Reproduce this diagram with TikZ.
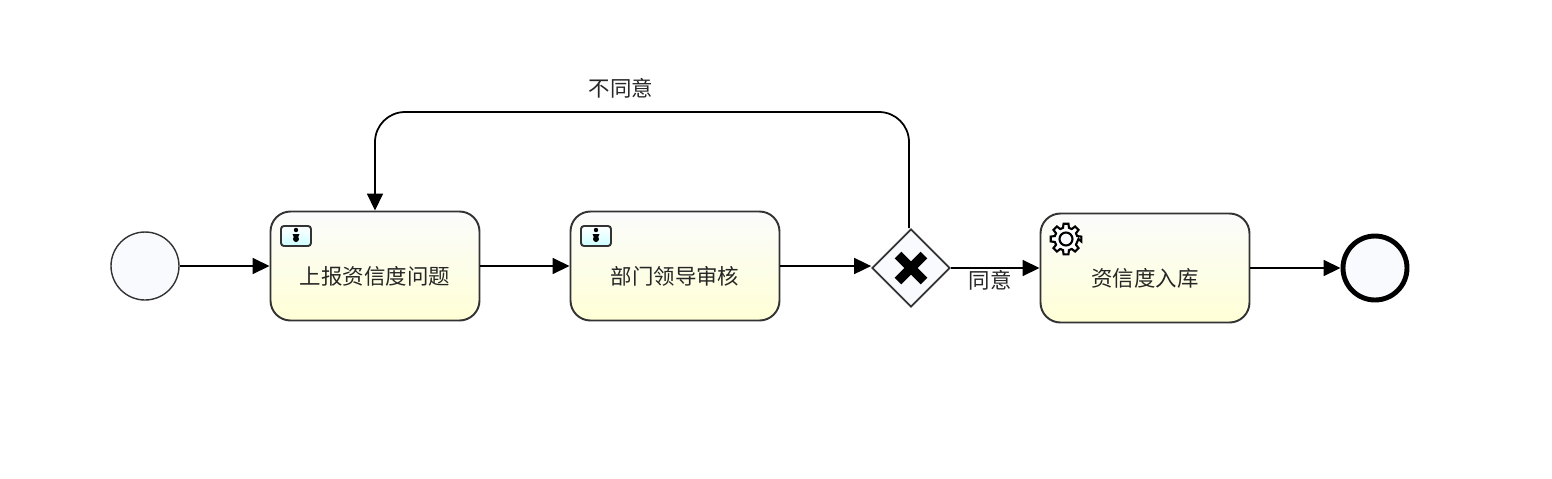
\documentclass[tikz,border=0pt]{standalone}
\usepackage{fontspec}
\setmainfont{Noto Sans CJK SC}
\usetikzlibrary{arrows.meta,shapes.geometric}
\definecolor{evfill}{HTML}{F8FAFD}
\definecolor{tasktop}{HTML}{FBFCFC}
\definecolor{taskbot}{HTML}{FFFFD6}
\definecolor{linegray}{HTML}{333333}
\tikzset{
  evnode/.style={circle, draw=linegray, fill=evfill, line width=0.4pt, inner sep=0pt, minimum size=0.68cm},
  tasknode/.style={rectangle, rounded corners=0.2cm, draw=linegray, line width=0.55pt, top color=tasktop, bottom color=taskbot, minimum width=2.09cm, minimum height=1.09cm, inner sep=0pt},
  gatenode/.style={diamond, draw=linegray, fill=evfill, line width=0.5pt, inner sep=0pt, minimum width=0.78cm, minimum height=0.78cm},
  lbl/.style={inner sep=0pt, font=\fontsize{6.1pt}{7pt}\selectfont, text=black!85},
  flow/.style={draw=black, line width=0.5pt, -{Triangle[length=0.17cm,width=0.16cm]}},
  usericon/.style={rectangle, rounded corners=0.03cm, draw=linegray, line width=0.55pt, top color=white, bottom color=cyan!20, minimum width=0.3cm, minimum height=0.2cm, inner sep=0pt},
}
\begin{document}
\begin{tikzpicture}
    \useasboundingbox (0,0) rectangle (15.52,4.78);
    \node[evnode] (start) at (1.45,2.12) {};
    \node[tasknode] (report) at (3.75,2.12) {};
    \node[tasknode] (audit) at (6.75,2.12) {};
    \node[gatenode] (gate) at (9.11,2.10) {};
    \node[tasknode] (store) at (11.45,2.10) {};
    \node[evnode, draw=black, line width=1.4pt, minimum size=0.64cm] (finish) at (13.75,2.10) {};
    \node[lbl] (reporttext) at (3.75,2.02) {上报资信度问题};
    \node[lbl] (audittext) at (6.75,2.02) {部门领导审核};
    \node[lbl] (storetext) at (11.45,2.00) {资信度入库};
    \node[lbl] (nolabel) at (6.21,3.90) {不同意};
    \node[lbl] (yeslabel) at (9.90,1.98) {同意};
    \coordinate (loopright) at (9.09,3.66);
    \coordinate (loopleft) at (3.75,3.66);
    % flows
    \draw[flow] (start) -- (report);
    \draw[flow] (report) -- (audit);
    \draw[flow] (audit.east) -- (audit.east -| gate.west);
    \draw[flow] (gate) -- (store);
    \draw[flow] (store) -- (finish);
    \draw[flow, rounded corners=0.3cm] (loopright |- gate.north) -- (loopright) -- (loopleft) -- (report.north);
    % cross in the gateway
    \draw[line width=2.7pt] (8.98,1.97) -- (9.24,2.23) (8.98,2.23) -- (9.24,1.97);
    % user icons
    \foreach \name/\x in {reporticon/2.96, auditicon/5.96} {
      \node[usericon] (\name) at (\x,2.42) {};
      \fill (\x,2.48) circle (0.022);
      \fill (\x,2.39) circle (0.03);
      \fill (\x-0.035,2.44) -- (\x+0.035,2.44) -- (\x,2.36) -- cycle;
    }
    % gear icon
    \begin{scope}[shift={(10.66,2.39)}]
      \draw[line width=0.6pt, fill=white]
        (0:0.125)
        \foreach \a in {0,45,...,315} {
          -- (\a-9:0.155) -- (\a+9:0.155) -- (\a+15:0.115) -- (\a+30:0.115)
        } -- cycle;
      \draw[line width=0.6pt, fill=evfill] (0,0) circle (0.065);
    \end{scope}
\end{tikzpicture}
\end{document}
